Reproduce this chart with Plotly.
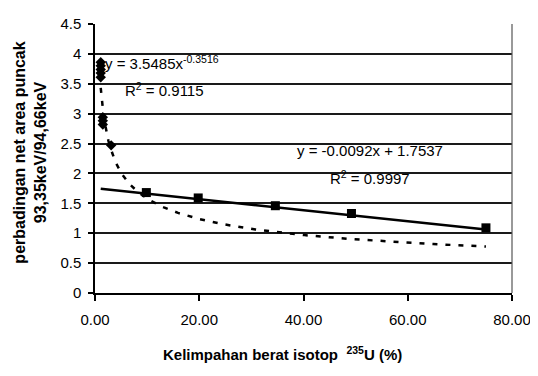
import numpy as np
import plotly.graph_objects as go

# Data
diamond_x = [1.1, 1.1, 1.1, 1.1, 1.1, 1.5, 1.5, 1.5, 3.1]
diamond_y = [3.86, 3.80, 3.74, 3.68, 3.61, 2.94, 2.88, 2.82, 2.47]
square_x = [9.85, 19.8, 34.6, 49.2, 75.0]
square_y = [1.68, 1.59, 1.46, 1.33, 1.09]

# Trendline coefficients (from the chart labels)
power_a, power_b = 3.5485, -0.3516
lin_m, lin_c = -0.0092, 1.7537
trend_range = [1.1, 75.0]

x_ticks = [0, 20, 40, 60, 80]
x_ticklabels = ["0.00", "20.00", "40.00", "60.00", "80.00"]
y_ticks = [0, 0.5, 1, 1.5, 2, 2.5, 3, 3.5, 4, 4.5]

tx = np.linspace(trend_range[0], trend_range[1], 300)
power_y = power_a * tx ** power_b
lin_x = np.array(trend_range)
lin_y = lin_m * lin_x + lin_c

font_main = "Liberation Sans, Arial"

fig = go.Figure()
fig.add_trace(go.Scatter(x=tx, y=power_y, mode="lines",
                         line=dict(color="black", width=2.5, dash="5px,8px"),
                         hoverinfo="skip", showlegend=False))
fig.add_trace(go.Scatter(x=lin_x, y=lin_y, mode="lines",
                         line=dict(color="black", width=2.5),
                         hoverinfo="skip", showlegend=False))
fig.add_trace(go.Scatter(x=diamond_x, y=diamond_y, mode="markers",
                         marker=dict(symbol="diamond", size=8, color="black"),
                         showlegend=False))
fig.add_trace(go.Scatter(x=square_x, y=square_y, mode="markers",
                         marker=dict(symbol="square", size=9, color="black"),
                         showlegend=False))

ann_font = dict(family=font_main, size=15, color="black")
fig.add_annotation(x=1.5, y=3.85, xref="x", yref="y", xanchor="left", yanchor="middle",
                   text="y = 3.5485x<sup>-0.3516</sup>", showarrow=False, font=ann_font)
fig.add_annotation(x=5.3, y=3.40, xref="x", yref="y", xanchor="left", yanchor="middle",
                   text="R<sup>2</sup> = 0.9115", showarrow=False, font=ann_font)
fig.add_annotation(x=52.7, y=2.38, xref="x", yref="y", xanchor="center", yanchor="middle",
                   text="y = -0.0092x + 1.7537", showarrow=False, font=ann_font)
fig.add_annotation(x=52.7, y=1.93, xref="x", yref="y", xanchor="center", yanchor="middle",
                   text="R<sup>2</sup> = 0.9997", showarrow=False, font=ann_font)

# Y axis title (two lines, bold)
fig.add_annotation(x=-0.205, y=0.52, xref="paper", yref="paper", textangle=-90,
                   text="<b>perbadingan net area puncak<br>93,35keV/94,66keV</b>",
                   showarrow=False, font=dict(family=font_main, size=16, color="black"))
# X axis title
fig.add_annotation(x=0.449, y=-0.225, xref="paper", yref="paper", yanchor="middle",
                   text="<b>Kelimpahan berat isotop  <sup>235</sup>U (%)</b>",
                   showarrow=False, font=dict(family=font_main, size=15, color="black"))

# The page body has an 8px default margin, so the figure is made 8px smaller
# and the margins are shifted to keep the plot area where the reference has it.
fig.update_layout(
    width=530, height=368,
    margin=dict(l=87, r=19, t=7, b=83),
    paper_bgcolor="white", plot_bgcolor="white",
    font=dict(family=font_main, size=15, color="black"),
    showlegend=False,
)
fig.update_xaxes(range=[0, 80], tickvals=x_ticks, ticktext=x_ticklabels,
                 showgrid=False, zeroline=False,
                 showline=True, linecolor="black", linewidth=1.5, mirror=False,
                 ticks="outside", ticklen=6, tickcolor="black", tickwidth=1.5,
                 ticklabelstandoff=6, ticklabeloverflow="allow")
fig.update_yaxes(range=[0, 4.5], tickvals=y_ticks,
                 showgrid=True, gridcolor="#1a1a1a", gridwidth=1.5, zeroline=False,
                 showline=True, linecolor="black", linewidth=1.5,
                 ticks="outside", ticklen=5, tickcolor="black", tickwidth=1.5,
                 ticklabelstandoff=4, ticklabeloverflow="allow")
# right border of plot area
fig.add_shape(type="line", xref="paper", yref="paper", x0=1, x1=1, y0=0, y1=1,
              line=dict(color="#555555", width=1.2))

fig.write_html("out.html")
